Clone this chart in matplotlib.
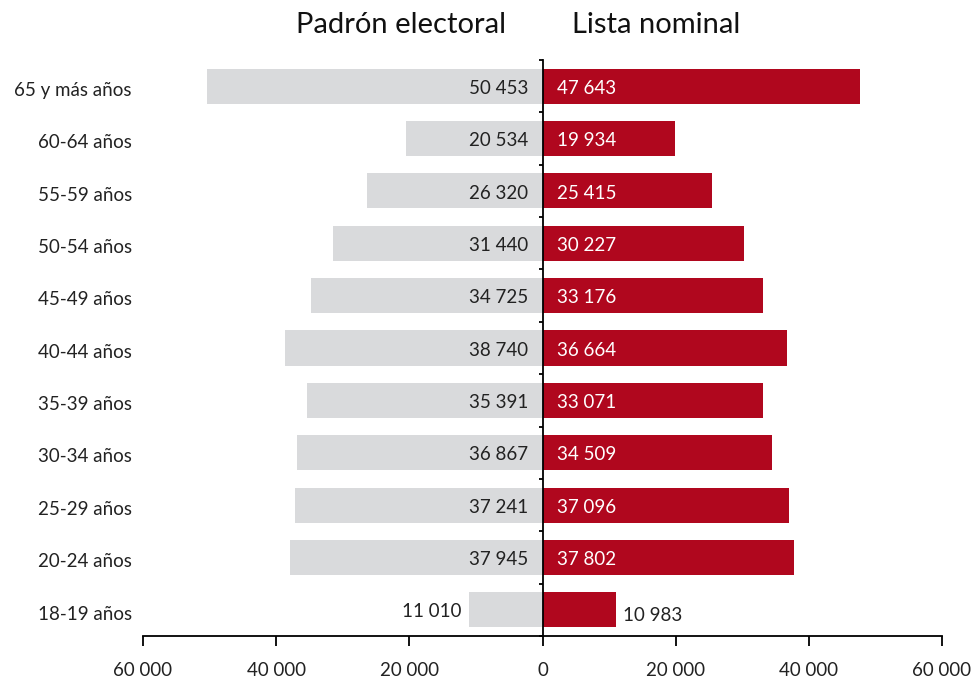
import matplotlib
matplotlib.use("Agg")
import matplotlib.pyplot as plt
import numpy as np

categories = ["65 y más años", "60-64 años", "55-59 años", "50-54 años", "45-49 años",
              "40-44 años", "35-39 años", "30-34 años", "25-29 años", "20-24 años", "18-19 años"]
padron = [50453, 20534, 26320, 31440, 34725, 38740, 35391, 36867, 37241, 37945, 11010]
lista = [47643, 19934, 25415, 30227, 33176, 36664, 33071, 34509, 37096, 37802, 10983]
xticks = [-60000, -40000, -20000, 0, 20000, 40000, 60000]

plt.rcParams['font.family'] = ['Lato', 'DejaVu Sans']

GRAY = "#D9DADC"
RED = "#B0071E"

fig = plt.figure(figsize=(9.77, 6.84), dpi=100)
ax = fig.add_axes([143/977, 1-636/684, (942-143)/977, (636-60)/684])

n = len(categories)
y = np.arange(n)[::-1]  # top category at highest y
h = 0.67
ax.barh(y, [-v for v in padron], height=h, color=GRAY)
ax.barh(y, lista, height=h, color=RED)

def fmt(v):
    return f"{abs(int(v)):,}".replace(",", " ")

fs = 13.5
dy = -0.04
for yi, p, l in zip(y, padron, lista):
    if p > 15000:
        ax.text(-2100, yi + dy, fmt(p), ha='right', va='center', fontsize=fs, color='#222222')
    else:
        ax.text(-p - 1100, yi + dy, fmt(p), ha='right', va='center', fontsize=fs, color='#222222')
    if l > 15000:
        ax.text(2200, yi + dy, fmt(l), ha='left', va='center', fontsize=fs, color='white')
    else:
        ax.text(l + 1100, yi - 0.1, fmt(l), ha='left', va='center', fontsize=fs, color='#222222')

for yi, c in zip(y, categories):
    ax.text(-0.014, yi - 0.08, c, transform=ax.get_yaxis_transform(), ha='right', va='center',
            fontsize=fs, color='#222222')

ax.set_xlim(-60000, 60000)
ax.set_ylim(-0.5, n - 0.5)

ax.spines['top'].set_visible(False)
ax.spines['right'].set_visible(False)
ax.spines['left'].set_position(('data', 0))
ax.spines['left'].set_linewidth(1.3)
ax.spines['bottom'].set_linewidth(1.3)

ax.set_yticks(np.arange(-0.5, n, 1.0))
ax.set_yticklabels([])
ax.tick_params(axis='y', direction='out', length=3, width=1.3)

ax.set_xticks(xticks)
ax.set_xticklabels([fmt(v) for v in xticks], fontsize=fs, color='#222222')
ax.tick_params(axis='x', direction='out', length=7, width=1.3, pad=12)

fig.text(401/977, 1-25/684, "Padrón electoral", ha='center', va='center', fontsize=21, color='#111111')
fig.text(656/977, 1-25/684, "Lista nominal", ha='center', va='center', fontsize=21, color='#111111')

fig.savefig("out.png", dpi=100)
